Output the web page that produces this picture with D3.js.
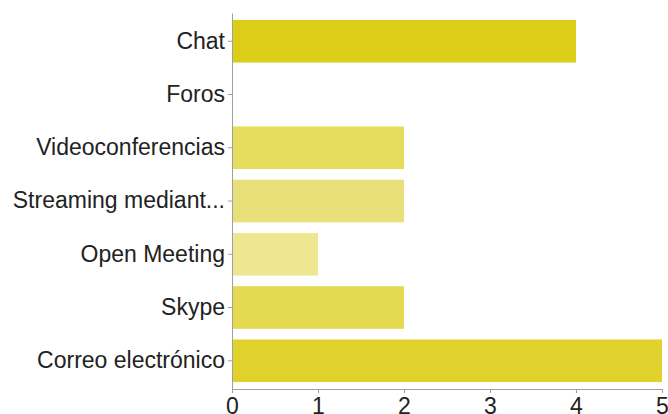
<!DOCTYPE html>
<html><head><meta charset="utf-8">
<script src="https://cdn.jsdelivr.net/npm/d3@7"></script>
<style>body{margin:0;background:#fff}svg{display:block}</style>
</head><body><div id="chart"></div>
<script>
const categories = ["Chat","Foros","Videoconferencias","Streaming mediant...","Open Meeting","Skype","Correo electrónico"];
const values = [4,0,2,2,1,2,5];
const barColors = ["#dccd19","#e3d74a","#e6dc5e","#e9e07a","#eee690","#e4d950","#e0d12d"];
const xTicks = [0,1,2,3,4,5];

const W = 668, H = 414;
const svg = d3.select("#chart").append("svg").attr("width", W).attr("height", H);
const x = d3.scaleLinear().domain([0,5]).range([232,662]);
const y = d3.scaleBand().domain(categories).range([13,389]).paddingInner(0.2).paddingOuter(0.13);

svg.append("g").selectAll("rect").data(categories).join("rect")
  .attr("x", x(0))
  .attr("y", d => y(d))
  .attr("width", (d,i) => x(values[i]) - x(0))
  .attr("height", y.bandwidth())
  .attr("fill", (d,i) => barColors[i]);

const font = "'Liberation Sans', Arial, Helvetica, sans-serif";

const ya = svg.append("g").attr("transform", `translate(${x(0)},0)`)
  .call(d3.axisLeft(y).tickSize(4).tickSizeOuter(0).tickPadding(3));
ya.select(".domain").attr("stroke", "#a0a0a0");
ya.selectAll(".tick line").attr("stroke", "#a0a0a0");
ya.selectAll(".tick text").attr("font-family", font).attr("font-size", 23).attr("fill", "#222");

const xa = svg.append("g").attr("transform", `translate(0,389)`)
  .call(d3.axisBottom(x).tickValues(xTicks).tickFormat(d3.format("d")).tickSize(4).tickSizeOuter(0).tickPadding(5));
xa.select(".domain").attr("stroke", "#a0a0a0");
xa.selectAll(".tick line").attr("stroke", "#a0a0a0");
xa.selectAll(".tick text").attr("font-family", font).attr("font-size", 23).attr("fill", "#222");
</script></body></html>
